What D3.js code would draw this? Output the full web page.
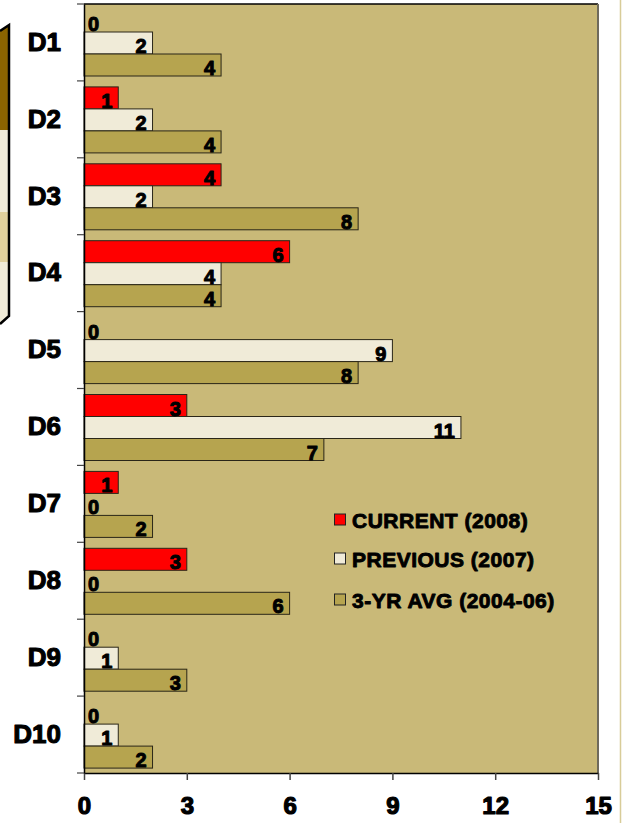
<!DOCTYPE html>
<html>
<head>
<meta charset="utf-8">
<script src="https://cdn.jsdelivr.net/npm/d3@7"></script>
<style>
  body { margin: 0; background: #fff; }
  svg { display: block; font-family: "Liberation Sans", Arial, sans-serif; font-weight: bold; }
  .heavy { stroke: #000; stroke-linejoin: round; }
</style>
</head>
<body>
<div id="chart"></div>
<script>
(function()
{
    // data
    const categories = ["D1", "D2", "D3", "D4", "D5", "D6", "D7", "D8", "D9", "D10"];
    const current  = [0, 1, 4, 6, 0, 3, 1, 3, 0, 0];
    const previous = [2, 2, 2, 4, 9, 11, 0, 0, 1, 1];
    const avg3yr   = [4, 4, 8, 4, 8, 7, 2, 6, 3, 2];
    const seriesNames = ["CURRENT (2008)", "PREVIOUS (2007)", "3-YR AVG (2004-06)"];
    const seriesColors = ["#ff0000", "#f0ebd8", "#b6a44f"];
    const xTicks = [0, 3, 6, 9, 12, 15];

    const W = 622, H = 823;
    const left = 84, right = 598, top = 4, bottom = 773;

    var svg = d3.select("#chart").append("svg")
        .attr("width", W)
        .attr("height", H);

    // thin line at far right edge
    svg.append("line")
        .attr("x1", 620.5).attr("x2", 620.5)
        .attr("y1", 0).attr("y2", H)
        .attr("stroke", "#d8cc98").attr("stroke-width", 1.5);

    // partly hidden panel on the left edge
    var bands = [[25, 130, "#8b6400"], [130, 212, "#f0ebd8"], [212, 262, "#e0d09c"], [262, 322, "#f0ebd8"]];
    svg.append("clipPath").attr("id", "leftclip")
        .append("path").attr("d", "M0,31 L9,25 L9,316 L0,324 Z");
    var lp = svg.append("g").attr("clip-path", "url(#leftclip)");
    bands.forEach(function(b) {
        lp.append("rect").attr("x", 0).attr("y", b[0]).attr("width", 10).attr("height", b[1] - b[0]).attr("fill", b[2]);
    });
    svg.append("path")
        .attr("d", "M0,31 L9,25 L9,316 L0,324")
        .attr("fill", "none").attr("stroke", "#000").attr("stroke-width", 2.5);

    var x = d3.scaleLinear().domain([0, 15]).range([left, right]);
    var y = d3.scaleBand().domain(categories).range([top, bottom]).padding(0);
    var ySub = d3.scaleBand().domain([0, 1, 2]).range([6, 72]).padding(0);

    // plot background
    svg.append("rect")
        .attr("x", left).attr("y", top)
        .attr("width", right - left).attr("height", bottom - top)
        .attr("fill", "#c9b978");

    svg.append("line")
        .attr("x1", left).attr("x2", right).attr("y1", top).attr("y2", top)
        .attr("stroke", "#000").attr("stroke-width", 1.5);
    svg.append("line")
        .attr("x1", right).attr("x2", right).attr("y1", top).attr("y2", bottom)
        .attr("stroke", "#6e6a5c").attr("stroke-width", 2);

    var seriesData = [current, previous, avg3yr];
    var rows = [];
    categories.forEach(function(c, i) {
        seriesData.forEach(function(s, k) {
            rows.push({ cat: c, k: k, v: s[i] });
        });
    });

    var g = svg.append("g");
    g.selectAll("rect.bar")
        .data(rows.filter(function(d) { return d.v > 0; }))
        .enter()
        .append("rect")
        .attr("class", "bar")
        .attr("x", x(0))
        .attr("y", function(d) { return y(d.cat) + ySub(d.k); })
        .attr("width", function(d) { return x(d.v) - x(0); })
        .attr("height", ySub.bandwidth())
        .attr("fill", function(d) { return seriesColors[d.k]; })
        .attr("stroke", "#2a2618")
        .attr("stroke-width", 1);

    g.selectAll("text.val")
        .data(rows)
        .enter()
        .append("text")
        .attr("class", "val heavy")
        .attr("x", function(d) { return d.v > 0 ? x(d.v) - 6 : x(0) + 4; })
        .attr("y", function(d) { return y(d.cat) + ySub(d.k) + ySub.bandwidth() - 1; })
        .attr("text-anchor", function(d) { return d.v > 0 ? "end" : "start"; })
        .style("font-size", "20px")
        .attr("stroke-width", 1)
        .attr("fill", "#000")
        .text(function(d) { return d.v; });

    // x axis
    var xAxis = svg.append("g")
        .attr("transform", "translate(0," + bottom + ")")
        .call(d3.axisBottom(x).tickValues(xTicks).tickSize(7).tickPadding(17).tickSizeOuter(0));
    xAxis.select(".domain").attr("stroke", "#000").attr("stroke-width", 1.5);
    xAxis.selectAll(".tick line").attr("stroke", "#444").attr("stroke-width", 1.5);
    xAxis.selectAll("text")
        .attr("class", "heavy")
        .attr("stroke-width", 1.2)
        .style("font-size", "24px").style("font-weight", "bold")
        .attr("fill", "#000");

    // y axis
    var yAxis = svg.append("g")
        .attr("transform", "translate(" + left + ",0)")
        .call(d3.axisLeft(y).tickSize(0).tickPadding(23));
    yAxis.select(".domain").attr("stroke", "#000").attr("stroke-width", 1.5);
    yAxis.selectAll("text")
        .attr("class", "heavy")
        .attr("stroke-width", 1.1)
        .style("font-size", "26px").style("font-weight", "bold")
        .attr("fill", "#000");

    var edges = categories.map(function(c) { return y(c); }).concat([bottom]);
    svg.selectAll("line.ytick")
        .data(edges)
        .enter()
        .append("line")
        .attr("class", "ytick")
        .attr("x1", left - 7).attr("x2", left)
        .attr("y1", function(d) { return d; }).attr("y2", function(d) { return d; })
        .attr("stroke", "#444").attr("stroke-width", 1.2);

    // legend
    var legend = svg.append("g").attr("transform", "translate(334,0)");
    var legendY = [520, 559, 600];
    seriesNames.forEach(function(name, k) {
        legend.append("rect")
            .attr("x", 0.5).attr("y", legendY[k] - 6)
            .attr("width", 11).attr("height", 11)
            .attr("fill", seriesColors[k])
            .attr("stroke", "#222").attr("stroke-width", 1);
        legend.append("text")
            .attr("class", "heavy")
            .attr("x", 18).attr("y", legendY[k])
            .attr("dy", "0.36em")
            .style("font-size", "21px")
            .attr("stroke-width", 0.9)
            .attr("letter-spacing", 0.5)
            .attr("fill", "#000")
            .text(name);
    });
})();
</script>
</body>
</html>
